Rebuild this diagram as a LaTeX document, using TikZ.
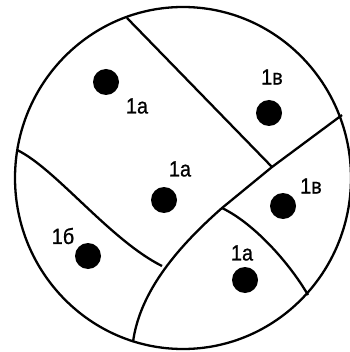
\documentclass[tikz,border=0pt]{standalone}
\usepackage{fontspec}
\setmainfont{Liberation Sans}
\newfontfamily\lblfont[FakeBold=0.7,FakeStretch=0.9]{Liberation Sans}
\usepackage{tikz}
\tikzset{every node/.append style={font=\lblfont\fontsize{22}{22}\selectfont}}
\tikzset{
  zone/.style={line width=2.3pt},
  grain/.style={fill=black},
}
\begin{document}
\begin{tikzpicture}[x=1pt, y=-1pt]
    \useasboundingbox (0,0) rectangle (349,352);
    % outer boundary of the section
    \draw[zone] (183,178) ellipse [x radius=168, y radius=171];
    % junctions on the boundary and inside
    \coordinate (T) at (127,18);
    \coordinate (R) at (342,115);
    \coordinate (L) at (17,150);
    \coordinate (B) at (133,342);
    \coordinate (BR) at (308,295);
    \coordinate (J1) at (272,167);
    \coordinate (J2) at (222,208);
    \coordinate (J3) at (162,266);
    % borders between the zones
    \draw[zone] (T) -- (J1);
    \draw[zone] (R) -- (J1) -- (J2) .. controls (180,245) and (140,290) .. (B);
    \draw[zone] (L) .. controls (55,168) and (110,240) .. (J3);
    \draw[zone] (J2) .. controls (255,224) and (290,264) .. (BR);
    % grains and their labels
    \fill[grain] (106,82) circle (13);
    \fill[grain] (269,113) circle (13);
    \fill[grain] (164,200) circle (13);
    \fill[grain] (283,206) circle (13);
    \fill[grain] (88,256) circle (13);
    \fill[grain] (245,280) circle (13);
    \node (a1) at (137,106) {1а};
    \node (v1) at (272,77) {1в};
    \node (a2) at (180,169) {1а};
    \node (v2) at (311,186) {1в};
    \node (b1) at (63,236) {1б};
    \node (a3) at (242,253) {1а};
\end{tikzpicture}
\end{document}
